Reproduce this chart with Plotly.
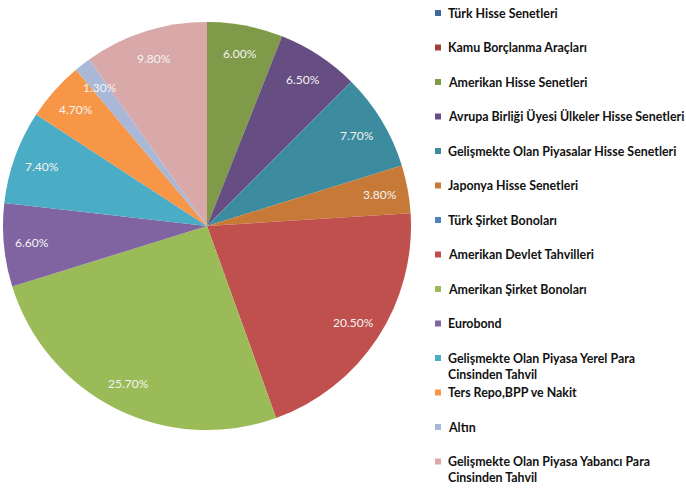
import math
import plotly.graph_objects as go

labels = [
    "Türk Hisse Senetleri",
    "Kamu Borçlanma Araçları",
    "Amerikan Hisse Senetleri",
    "Avrupa Birliği Üyesi Ülkeler Hisse Senetleri",
    "Gelişmekte Olan Piyasalar Hisse Senetleri",
    "Japonya Hisse Senetleri",
    "Türk Şirket Bonoları",
    "Amerikan Devlet Tahvilleri",
    "Amerikan Şirket Bonoları",
    "Eurobond",
    "Gelişmekte Olan Piyasa Yerel Para<br>Cinsinden Tahvil",
    "Ters Repo,BPP ve Nakit",
    "Altın",
    "Gelişmekte Olan Piyasa Yabancı Para<br>Cinsinden Tahvil",
]
values = [0.0, 0.0, 6.00, 6.50, 7.70, 3.80, 0.0, 20.50, 25.70, 6.60, 7.40, 4.70, 1.30, 9.80]
colors = [
    "#3D6A9E", "#A0403D", "#7F9A48", "#664E82", "#3C8B9F", "#C77A37",
    "#4F81BD", "#C0504D", "#9BBB59", "#8064A2", "#4BACC6", "#F79646",
    "#A9B8D7", "#D9A8A8",
]

W, H = 686, 488
# pie geometry (pixels)
PX0, PX1, PY0, PY1 = 3, 411, 21, 431
cx, cy = (PX0 + PX1) / 2, (PY0 + PY1) / 2
R = min(PX1 - PX0, PY1 - PY0) / 2

fig = go.Figure()
fig.add_trace(go.Pie(
    labels=labels,
    values=values,
    textinfo="none",
    sort=False,
    direction="clockwise",
    rotation=0,
    marker=dict(colors=colors, line=dict(width=0)),
    showlegend=False,
    hoverinfo="label+value",
    domain=dict(x=[PX0 / W, PX1 / W], y=[(H - PY1) / H, (H - PY0) / H]),
))

# data labels: along each slice's bisector, near the outer edge
total = sum(values)
cum = 0.0
for v in values:
    if v > 0:
        ang = 2 * math.pi * (cum + v / 2) / total
        rl = 0.86 * R
        lx = cx + rl * math.sin(ang)
        ly = cy - rl * math.cos(ang)
        fig.add_annotation(xref="paper", yref="paper", x=lx / W, y=(H - ly) / H,
                           text=f"{v:.2f}%", showarrow=False,
                           xanchor="center", yanchor="middle",
                           font=dict(family="Lato", size=12, color="#F4F4F4"))
    cum += v

# custom legend
y0, pitch = 13, 34.5
for i, (lab, col) in enumerate(zip(labels, colors)):
    yc = y0 + pitch * i
    fig.add_shape(type="rect", xref="paper", yref="paper",
                  x0=435 / W, x1=441 / W,
                  y0=(H - yc - 3) / H, y1=(H - yc + 3) / H,
                  fillcolor=col, line=dict(width=0))
    fig.add_annotation(xref="paper", yref="paper", x=446 / W,
                       y=(H - yc + 9.2) / H, xanchor="left", yanchor="top",
                       text=lab, showarrow=False, align="left",
                       font=dict(family="Lato", size=12.4, color="#111111", weight="bold"))

fig.update_layout(
    width=W, height=H,
    margin=dict(l=0, r=0, t=0, b=0),
    paper_bgcolor="white",
    plot_bgcolor="white",
)
fig.write_html("out.html", config={"displayModeBar": False},
               post_script="document.body.style.margin='0px';document.body.style.padding='0px';")
